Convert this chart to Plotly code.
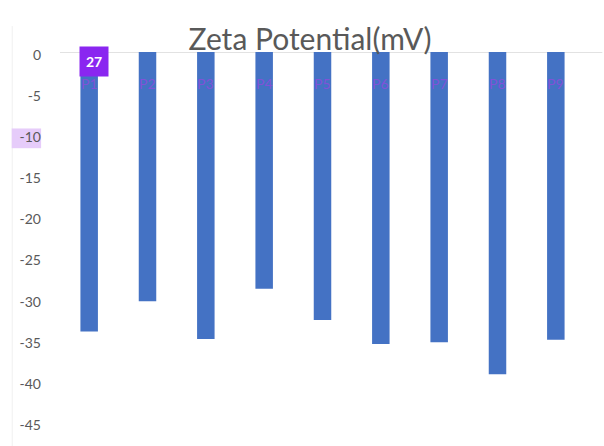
import plotly.graph_objects as go

# Zeta potential per sample (mV)
samples = ["P1", "P2", "P3", "P4", "P5", "P6", "P7", "P8", "P9"]
zeta_mv = [-34.0, -30.3, -34.9, -28.8, -32.6, -35.5, -35.3, -39.2, -35.0]
y_ticks = [0, -5, -10, -15, -20, -25, -30, -35, -40, -45]
badge_text = "27"
highlight_tick = -10

BAR = "#4472C4"
TEXT = "#595959"

fig = go.Figure()
fig.add_trace(go.Bar(
    x=samples, y=zeta_mv,
    marker=dict(color=BAR, line=dict(width=0)),
    width=0.3, hoverinfo="x+y",
))

# sample labels drawn over the top of each bar
for s in samples:
    fig.add_annotation(x=s, y=-3.8, text=s, showarrow=False,
                       font=dict(family="Lato", size=14, color="rgba(170,60,230,0.6)"))

# badge on the first bar
fig.add_annotation(x=samples[0], y=-1.2, xshift=5, text="<b>" + badge_text + "</b>",
                   showarrow=False, bgcolor="#8A26F0", borderpad=6,
                   font=dict(family="Lato", size=14, color="white"))

# baseline at zero, running slightly past the plot area
fig.add_shape(type="line", xref="paper", yref="y", x0=0, x1=1.033, y0=0, y1=0,
              line=dict(color="#D9D9D9", width=1.5), layer="below")
# faint left frame edge
fig.add_shape(type="line", xref="paper", yref="paper", x0=-0.091, x1=-0.091, y0=-0.07, y1=1.07,
              line=dict(color="#F0F0F0", width=1), layer="below")
# highlighted tick label
fig.add_shape(type="rect", xref="paper", yref="y", x0=-0.092, x1=-0.036,
              y0=highlight_tick + 0.7, y1=highlight_tick - 1.7,
              fillcolor="#E6CCFA", line=dict(width=0), layer="below")

fig.update_layout(
    width=604, height=446,
    margin=dict(l=60, r=19, t=52, b=24),
    paper_bgcolor="white", plot_bgcolor="white",
    showlegend=False, bargap=0.7,
    title=dict(text="Zeta Potential(mV)", x=310 / 604, xref="container", xanchor="center",
               y=1 - 39 / 446, yref="container", yanchor="middle",
               font=dict(family="Lato", size=30, color=TEXT)),
    xaxis=dict(showticklabels=False, showgrid=False, zeroline=False, showline=False,
               ticks=""),
    yaxis=dict(range=[-45, 0], tickvals=y_ticks, ticktext=[str(v) for v in y_ticks],
               showgrid=False, zeroline=False, showline=False, ticks="",
               ticklabelstandoff=18, ticklabelshift=3,
               tickfont=dict(family="Lato", size=14, color=TEXT)),
)

fig.write_html("out.html")
